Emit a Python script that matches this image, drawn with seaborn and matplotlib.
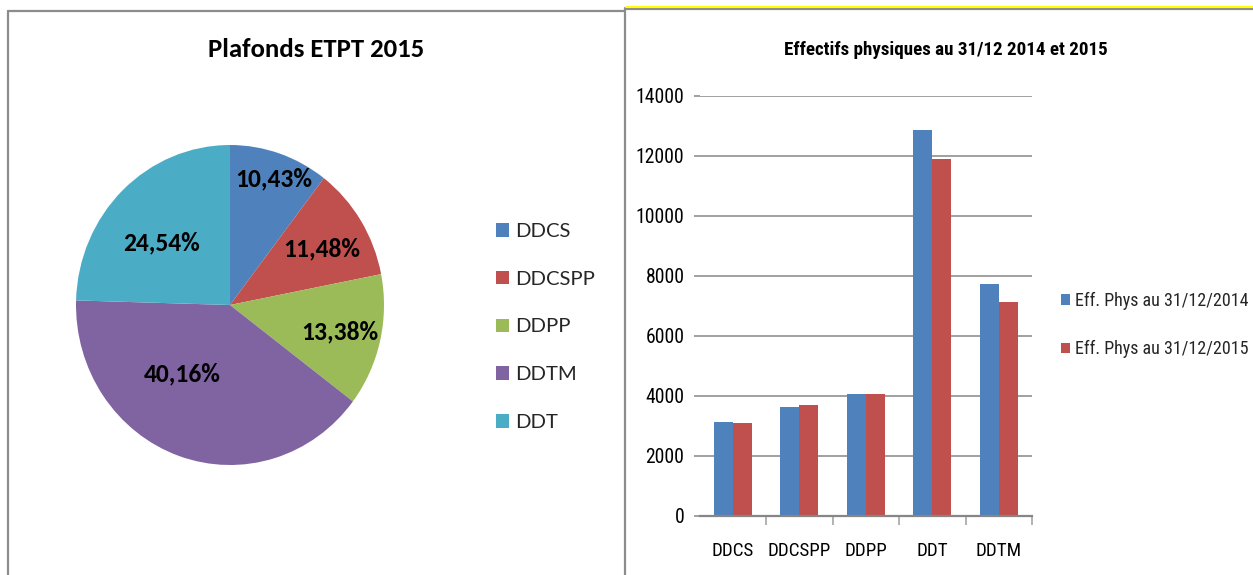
import os
import numpy as np
import pandas as pd
import matplotlib
matplotlib.use('Agg')
import matplotlib.pyplot as plt
import seaborn as sns
from matplotlib import font_manager as fm
from matplotlib.font_manager import FontProperties
from matplotlib.lines import Line2D

# ---------------- data ----------------
pie_categories = ['DDCS', 'DDCSPP', 'DDPP', 'DDTM', 'DDT']
pie_values = [10.43, 11.48, 13.38, 40.16, 24.54]
pie_labels = ['10,43%', '11,48%', '13,38%', '40,16%', '24,54%']
pie_title = 'Plafonds ETPT 2015'

bar_categories = ['DDCS', 'DDCSPP', 'DDPP', 'DDT', 'DDTM']
eff_2014 = [3120, 3620, 4055, 12860, 7720]
eff_2015 = [3090, 3690, 4055, 11890, 7120]
series_names = ['Eff. Phys au 31/12/2014', 'Eff. Phys au 31/12/2015']
bar_title = 'Effectifs physiques au 31/12 2014 et 2015'
y_ticks = [0, 2000, 4000, 6000, 8000, 10000, 12000, 14000]

# ---------------- style ----------------
pie_colors = ['#4F81BD', '#C0504D', '#9BBB59', '#8064A2', '#4BACC6']
bar_colors = ['#4F81BD', '#C0504D']
label_r = [0.84, 0.69, 0.73, 0.53, 0.59]
label_shift = [-1.2, -1.3, -0.4, -16.2, 5.0]

sns.set_theme(style='white')
avail = {f.name for f in fm.fontManager.ttflist}
calib = 'Lato' if 'Lato' in avail else 'DejaVu Sans'
plt.rcParams['font.family'] = [calib, 'DejaVu Sans']

BAD = ('italic', 'oblique', 'light', 'thin', 'medium', 'black', 'semi', 'extra', 'heavy',
       'book', 'hairline')


def find_font(keys, bold):
    files = [f.fname for f in fm.fontManager.ttflist]
    for key in keys:
        for fn in files:
            b = os.path.basename(fn).replace(' ', '').replace('_', '').lower()
            if key not in b:
                continue
            if any(x in b for x in BAD):
                continue
            if ('bold' in b) == bold:
                return fn
    return None


narrow_keys = ['liberationsansnarrow', 'robotocondensed', 'opensanscondensed',
               'notosanscondensed', 'notosans-condensed', 'dejavusanscondensed',
               'latocondensed']
f_reg = find_font(narrow_keys, False)
f_bold = find_font(narrow_keys, True)
fp_reg = FontProperties(fname=f_reg) if f_reg else FontProperties(family='DejaVu Sans')
fp_bold = FontProperties(fname=f_bold) if f_bold else FontProperties(family='DejaVu Sans', weight='bold')

f_cal_b = find_font(['carlito-bold', 'lato-bold', 'opensans-bold', 'notosans-bold',
                     'roboto-bold', 'liberationsans-bold'], True)
fp_cal = FontProperties(family=calib)
fp_cal_b = FontProperties(fname=f_cal_b) if f_cal_b else FontProperties(family='DejaVu Sans', weight='bold')

W, H = 1253, 575
fig = plt.figure(figsize=(W / 100, H / 100), dpi=100)
renderer = fig.canvas.get_renderer()


def fit(txt, fp, target_px):
    t = fig.text(0, 0, txt, fontproperties=fp, fontsize=10)
    w = t.get_window_extent(renderer).width
    t.remove()
    return 10 * target_px / w


def fx(px):
    return px / W


def fy(py):
    return 1 - py / H


border = '#8C8C8C'
lw_b = 1.6
fig.add_artist(Line2D([fx(8), fx(8)], [fy(11), 0], color=border, lw=lw_b, transform=fig.transFigure))
fig.add_artist(Line2D([fx(8), fx(625)], [fy(11), fy(11)], color=border, lw=lw_b, transform=fig.transFigure))
fig.add_artist(Line2D([fx(625), fx(625)], [fy(8), 0], color=border, lw=lw_b, transform=fig.transFigure))
fig.add_artist(Line2D([fx(626), 1], [fy(8.8), fy(8.8)], color=border, lw=lw_b, transform=fig.transFigure))
fig.add_artist(Line2D([fx(626), 1], [fy(6.5), fy(6.5)], color='#FFFF00', lw=1.5, transform=fig.transFigure))

# ---------------- pie ----------------
ax1 = fig.add_axes([fx(76), fy(465), 308 / W, 320 / H])
wedges, _ = ax1.pie(pie_values, colors=pie_colors, startangle=90, counterclock=False,
                    wedgeprops=dict(linewidth=0))
ax1.set_xlim(-1, 1)
ax1.set_ylim(-1, 1)
ax1.set_aspect('auto')
s_lab = fit('10,43%', fp_cal_b, 77)
for w, lab, r, sh in zip(wedges, pie_labels, label_r, label_shift):
    a = np.deg2rad((w.theta1 + w.theta2) / 2 + sh)
    ax1.text(r * np.cos(a), r * np.sin(a), lab, ha='center', va='center',
             fontproperties=fp_cal_b, fontsize=s_lab, color='black')

s_pt = fit(pie_title, fp_cal_b, 216)
fig.text(fx(316), fy(57), pie_title, ha='center', va='baseline', fontproperties=fp_cal_b,
         fontsize=s_pt, color='black')

s_pl = fit('DDCSPP', fp_cal, 79)
px_pl = s_pl * 100 / 72
fig.legend(wedges, pie_categories, loc='center left', bbox_to_anchor=(fx(496), fy(327)),
           frameon=False, prop=FontProperties(family=calib, size=s_pl),
           handlelength=13 / px_pl, handleheight=13 / px_pl,
           handletextpad=6 / px_pl, labelspacing=(51 - px_pl) / px_pl,
           borderpad=0, borderaxespad=0)

# ---------------- bars ----------------
df = pd.DataFrame({
    'cat': bar_categories * 2,
    'val': eff_2014 + eff_2015,
    'serie': [series_names[0]] * len(bar_categories) + [series_names[1]] * len(bar_categories),
})
ax2 = fig.add_axes([fx(699.5), fy(515.7), 332.8 / W, 420 / H])
sns.barplot(data=df, x='cat', y='val', hue='serie', palette=bar_colors, width=0.571,
            gap=0, saturation=1, edgecolor='none', ax=ax2)
handles, labels = ax2.get_legend_handles_labels()
if ax2.get_legend() is not None:
    ax2.get_legend().remove()

ax2.set_xlim(-0.5, len(bar_categories) - 0.5)
ax2.set_ylim(0, 14000)
ax2.set_yticks(y_ticks)
ax2.set_yticklabels([str(v) for v in y_ticks])
ax2.set_xlabel('')
ax2.set_ylabel('')
grid_c = '#868686'
ax2.yaxis.grid(True, color=grid_c, lw=1.1)
ax2.xaxis.grid(False)
ax2.set_axisbelow(True)
for s in ['left', 'right', 'top']:
    ax2.spines[s].set_visible(False)
ax2.spines['bottom'].set_color(grid_c)
ax2.spines['bottom'].set_linewidth(1.6)

s_y = fit('14000', fp_reg, 48)
s_x = fit('DDCSPP', fp_reg, 64)
ax2.tick_params(axis='y', which='major', left=True, length=4.3, width=1.1, color=grid_c,
                pad=6.5, labelcolor='black')
ax2.set_xticks([i + 0.5 for i in range(len(bar_categories))], minor=True)
ax2.tick_params(axis='x', which='major', bottom=True, length=0, pad=19, labelcolor='black')
ax2.tick_params(axis='x', which='minor', bottom=True, length=6.5, width=1.2, color='#A6A6A6')
for lbl in ax2.get_yticklabels():
    lbl.set_fontproperties(fp_reg)
    lbl.set_fontsize(s_y)
for lbl in ax2.get_xticklabels():
    lbl.set_fontproperties(fp_reg)
    lbl.set_fontsize(s_x)

s_bt = fit(bar_title, fp_bold, 325)
fig.text(fx(945.5), fy(55), bar_title, ha='center', va='baseline', fontproperties=fp_bold,
         fontsize=s_bt, color='black')

s_bl = fit(series_names[0], fp_reg, 173)
px_bl = s_bl * 100 / 72
fp_leg = fp_reg.copy()
fp_leg.set_size(s_bl)
fig.legend(handles, labels, loc='center left', bbox_to_anchor=(fx(1061), fy(325)),
           frameon=False, prop=fp_leg, handlelength=9 / px_bl, handleheight=9 / px_bl,
           handletextpad=5 / px_bl, labelspacing=(48 - px_bl) / px_bl, borderpad=0,
           borderaxespad=0)

fig.savefig('out.png', dpi=100)
